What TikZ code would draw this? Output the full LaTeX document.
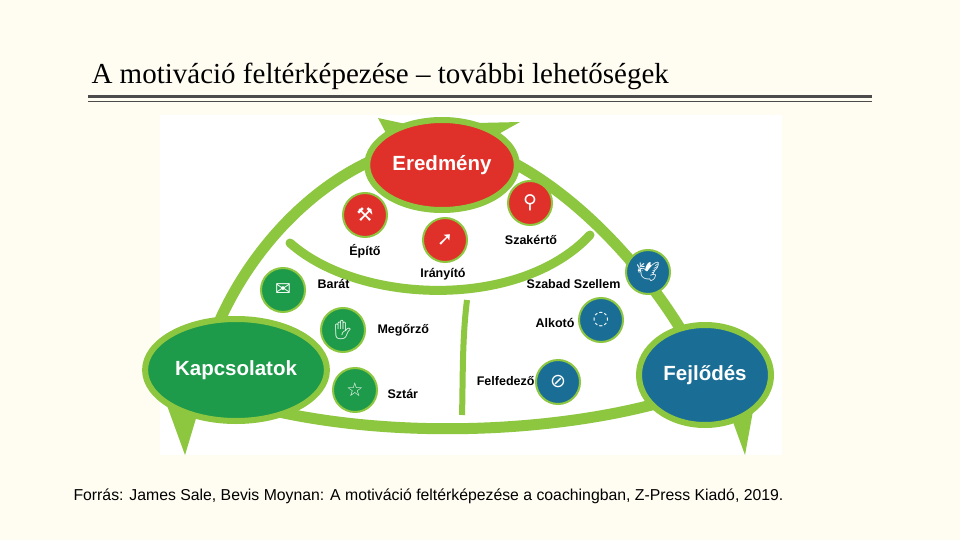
\documentclass[tikz,border=0pt]{standalone}
\usetikzlibrary{shapes.geometric}
\usepackage{fontspec}
\setmainfont{Liberation Serif}
\setsansfont{Liberation Sans}
\newfontfamily\symf{DejaVu Sans}
\newfontfamily\emo{Noto Emoji}
\definecolor{bg}{HTML}{FFFDF2}
\definecolor{lg}{HTML}{8DC63F}
\definecolor{rd}{HTML}{E0302A}
\definecolor{gn}{HTML}{1E9A4B}
\definecolor{bl}{HTML}{1A6E96}
\begin{document}
\begin{tikzpicture}[x=1pt,y=-1pt,
  arc/.style={lg,line width=11pt,line cap=round},
  big/.style={ellipse,minimum width=#1,draw=lg,line width=6pt,text=white,font=\sffamily\bfseries\fontsize{20.5}{22}\selectfont},
  small/.style={circle,minimum size=44pt,draw=lg,line width=2pt,text=white,font=\symf\fontsize{19}{19}\selectfont},
  lab/.style={font=\sffamily\bfseries\fontsize{12.5}{13}\selectfont}]
\fill[bg] (0,0) rectangle (960,540);
\useasboundingbox (0,0) rectangle (960,540);
\fill[white] (160,115) rectangle (782,455);
\node[anchor=base west,font=\fontsize{29}{32}\selectfont] (title) at (88,84) {A motiváció feltérképezése – további lehetőségek};
\draw[line width=2.5pt,black!70] (88,96.5) -- (872,96.5);
\draw[line width=1pt,black!70] (88,102) -- (872,102);
% green loop
\draw[arc] (205,360) .. controls (235,260) and (315,175) .. (400,150);
\draw[arc] (485,150) .. controls (565,180) and (645,265) .. (690,345);
\draw[arc] (270,410) .. controls (400,440) and (560,432) .. (670,400);
\draw[arc,line width=9pt] (290,243) .. controls (360,305) and (520,310) .. (590,235);
\draw[lg,line width=6pt] (467,300) .. controls (462,340) and (463,380) .. (462,415);
% arrow tails
\fill[lg] (378,118) -- (415,126) -- (395,150) -- cycle;
\fill[lg] (400,140) -- (392,125) -- (520,122) -- (470,150) -- cycle;
\fill[lg] (165,400) -- (185,455) -- (200,405) -- cycle;
\fill[lg] (725,400) -- (745,455) -- (755,400) -- cycle;
% big nodes
\node[big=112pt,fill=rd,minimum height=90pt] (ered) at (442,165) {Eredmény};
\node[big=135pt,fill=gn,minimum height=102pt] (kap) at (236,370) {Kapcsolatok};
\node[big=132pt,fill=bl,minimum height=100pt] (fej) at (705,375) {Fejlődés};
% small nodes
\node[small,fill=rd] (epito) at (365,215) {⚒};
\node[small,fill=rd] (iranyito) at (445,240) {➚};
\node[small,fill=rd] (szakerto) at (530,203) {⚲};
\node[small,fill=bl] (szabad) at (648,272) {\emo 🕊};
\node[small,fill=bl] (alkoto) at (601,320) {◌};
\node[small,fill=bl] (felf) at (558,382) {⊘};
\node[small,fill=gn] (barat) at (283,290) {✉};
\node[small,fill=gn] (megorzo) at (343,330) {\emo ✋};
\node[small,fill=gn] (sztar) at (355,390) {☆};
% labels
\node[lab] (l1) at (365,251) {Építő};
\node[lab] (l2) at (443,274) {Irányító};
\node[lab] (l3) at (531,240) {Szakértő};
\node[lab,anchor=east] (l4) at (624,284) {Szabad Szellem};
\node[lab,anchor=east] (l5) at (578,323) {Alkotó};
\node[lab,anchor=east] (l6) at (538,381) {Felfedező};
\node[lab,anchor=west] (l7) at (314,284) {Barát};
\node[lab,anchor=west] (l8) at (374,330) {Megőrző};
\node[lab,anchor=west] (l9) at (384,394) {Sztár};
\node[anchor=base west,font=\sffamily\fontsize{15.8}{17}\selectfont] (src) at (70,500) {Forrás: James Sale, Bevis Moynan: A motiváció feltérképezése a coachingban, Z-Press Kiadó, 2019.};
\end{tikzpicture}
\end{document}
